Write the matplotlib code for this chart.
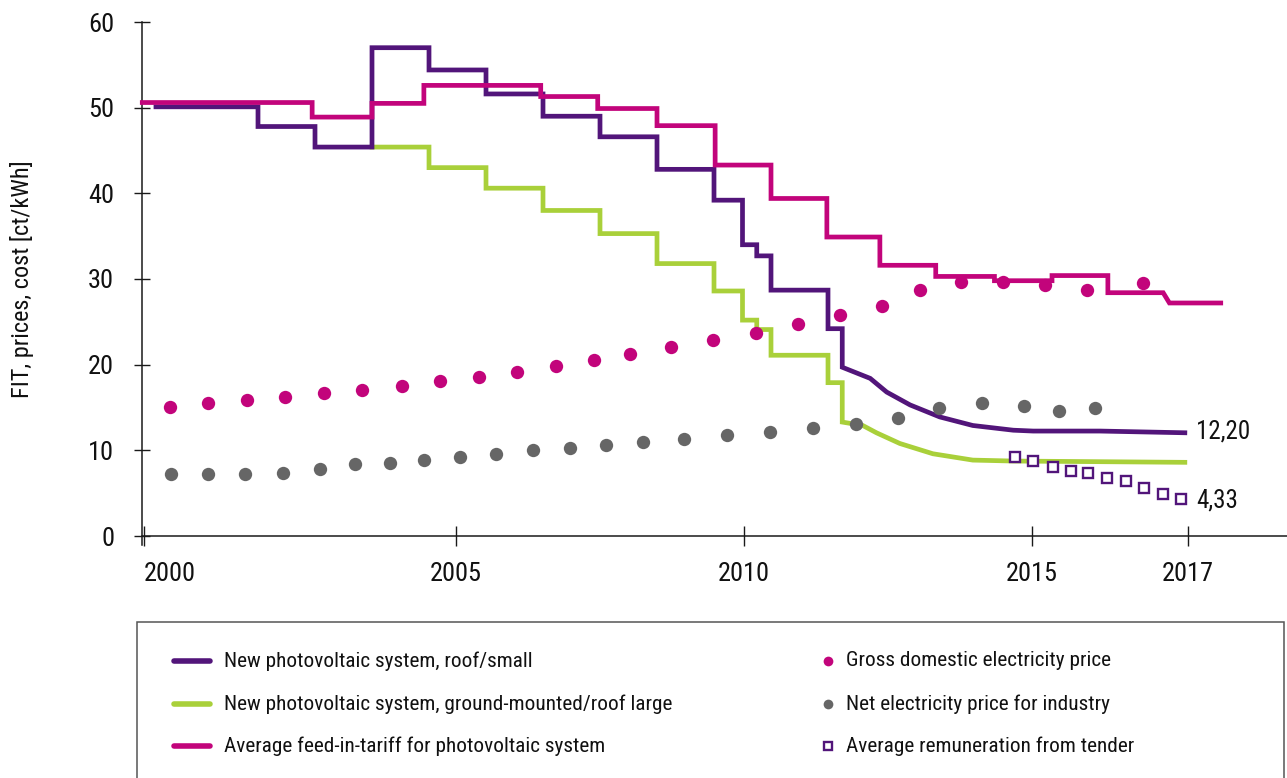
import matplotlib
matplotlib.use("Agg")
import matplotlib.pyplot as plt
from matplotlib.lines import Line2D
from matplotlib.patches import Rectangle
from matplotlib import font_manager as fm
import numpy as np

# ---------------- data ----------------
# New photovoltaic system, roof/small: step changes (time, value) then smooth degression
roof_step_t = [2000.21, 2002, 2003, 2004, 2005, 2006, 2007, 2008, 2009, 2010,
               2010.5, 2010.75, 2011, 2012, 2012.25]
roof_step_v = [50.1, 47.8, 45.4, 57.0, 54.4, 51.6, 49.0, 46.6, 42.8, 39.2,
               34.0, 32.7, 28.7, 24.2, 19.7]
roof_curve_t = [2012.74, 2013.03, 2013.44, 2013.96, 2014.54, 2015.25, 2015.6, 2016.77, 2018.26]
roof_curve_v = [18.4, 16.8, 15.3, 13.9, 12.9, 12.35, 12.25, 12.25, 12.05]

# New photovoltaic system, ground-mounted/roof large
ground_step_t = [2004, 2005, 2006, 2007, 2008, 2009, 2010, 2010.5, 2010.75, 2011, 2012, 2012.25]
ground_step_v = [45.4, 43.0, 40.6, 38.0, 35.3, 31.8, 28.6, 25.2, 24.1, 21.1, 17.9, 13.3]
ground_curve_t = [2012.61, 2012.85, 2013.26, 2013.84, 2014.54, 2015.25, 2018.26]
ground_curve_v = [12.9, 12.05, 10.8, 9.6, 8.86, 8.75, 8.6]

# Average feed-in-tariff for photovoltaic system
fit_step_t = [1999.97, 2002.95, 2004, 2004.91, 2006.96, 2007.96, 2009, 2010.02, 2011,
              2011.98, 2012.91, 2013.89, 2014.92, 2015.93, 2016.91]
fit_step_v = [50.6, 48.9, 50.5, 52.6, 51.3, 49.9, 47.9, 43.3, 39.4,
              34.9, 31.6, 30.3, 29.8, 30.4, 28.4]
fit_tail_t = [2017.88, 2017.99, 2018.89]
fit_tail_v = [28.4, 27.2, 27.2]

# Gross domestic electricity price
dom_t = [2000.45, 2001.12, 2001.80, 2002.48, 2003.15, 2003.83, 2004.52, 2005.19, 2005.87,
         2006.55, 2007.23, 2007.90, 2008.53, 2009.25, 2009.99, 2010.74, 2011.47, 2012.21,
         2012.94, 2013.61, 2014.33, 2015.07, 2015.81, 2016.54, 2017.53]
dom_v = [15.1, 15.5, 15.85, 16.2, 16.7, 17.1, 17.55, 18.1, 18.6, 19.2, 19.8, 20.5, 21.2,
         22.05, 22.9, 23.7, 24.7, 25.8, 26.9, 28.7, 29.7, 29.7, 29.3, 28.7, 29.5]

# Net electricity price for industry
ind_t = [2000.47, 2001.12, 2001.78, 2002.43, 2003.09, 2003.70, 2004.31, 2004.92, 2005.54,
         2006.18, 2006.82, 2007.47, 2008.11, 2008.75, 2009.48, 2010.23, 2010.99, 2011.74,
         2012.49, 2013.22, 2013.95, 2014.70, 2015.44, 2016.06, 2016.68]
ind_v = [7.19, 7.19, 7.19, 7.3, 7.77, 8.35, 8.54, 8.85, 9.24, 9.63, 10.02, 10.33, 10.6,
         10.92, 11.38, 11.77, 12.15, 12.66, 13.1, 13.8, 15.0, 15.55, 15.15, 14.6, 14.9]

# Average remuneration from tender
tender_t = [2015.28, 2015.60, 2015.94, 2016.26, 2016.57, 2016.90, 2017.22, 2017.54, 2017.87, 2018.19]
tender_v = [9.25, 8.71, 8.08, 7.58, 7.31, 6.73, 6.41, 5.63, 4.86, 4.28]

tick_pos = [2000.0, 2005.47, 2010.53, 2015.58, 2018.31]
tick_labels = ["2000", "2005", "2010", "2015", "2017"]
y_ticks = [0, 10, 20, 30, 40, 50, 60]

end_label_roof = "12,20"
end_label_tender = "4,33"

legend_labels = ["New photovoltaic system, roof/small",
                 "New photovoltaic system, ground-mounted/roof large",
                 "Average feed-in-tariff for photovoltaic system",
                 "Gross domestic electricity price",
                 "Net electricity price for industry",
                 "Average remuneration from tender"]

# ---------------- style ----------------
PURPLE = "#52157a"
GREEN = "#a9d03a"
MAGENTA = "#c2047b"
GRAY = "#666666"
AXC = "#1a1a1a"
TXT = "#111111"


def pick_font():
    fl = fm.fontManager.ttflist
    def regular(f):
        return f.style == "normal" and f.weight in (400, "normal", "regular", "book")
    prefs = [lambda f: f.name == "Liberation Sans Narrow",
             lambda f: "Condensed" in f.name and "Roboto" in f.name,
             lambda f: "Condensed" in f.name and "Open Sans" in f.name,
             lambda f: f.name == "DejaVu Sans" and "ondensed" in str(f.stretch) or
                       (f.name == "DejaVu Sans" and "Condensed" in f.fname),
             lambda f: "Narrow" in f.name or "Condensed" in f.name]
    for p in prefs:
        c = [f for f in fl if p(f) and regular(f)]
        if c:
            return fm.FontProperties(fname=c[0].fname), True
    return fm.FontProperties(family=["Roboto", "DejaVu Sans"]), False


BASE_FP, CONDENSED = pick_font()
SCALE = 1.0 if CONDENSED else 0.86


def fp(size):
    p = BASE_FP.copy()
    p.set_size(size * SCALE)
    return p


W, H = 1287, 778
fig = plt.figure(figsize=(W / 100, H / 100), dpi=100)
ax = fig.add_axes([142 / W, 1 - 536 / H, (W - 142) / W, (536 - 22) / H])


def step_xy(ts, vs):
    xs, ys = [], []
    for i, (t, v) in enumerate(zip(ts, vs)):
        if i > 0:
            xs.append(t)
            ys.append(vs[i - 1])
        xs.append(t)
        ys.append(v)
    return xs, ys


def full_series(st, sv, ct, cv):
    xs, ys = step_xy(st, sv)
    return xs + list(ct), ys + list(cv)


LW = 3.4
x, y = full_series(roof_step_t, roof_step_v, roof_curve_t, roof_curve_v)
ax.plot(x, y, color=PURPLE, lw=LW, solid_joinstyle="miter", zorder=3)
x, y = full_series(ground_step_t, ground_step_v, ground_curve_t, ground_curve_v)
ax.plot(x, y, color=GREEN, lw=LW, solid_joinstyle="miter", zorder=2)
x, y = full_series(fit_step_t, fit_step_v, fit_tail_t, fit_tail_v)
ax.plot(x, y, color=MAGENTA, lw=LW, solid_joinstyle="miter", zorder=4)

ax.plot(dom_t, dom_v, "o", color=MAGENTA, ms=9.6, mew=0, zorder=5)
ax.plot(ind_t, ind_v, "o", color=GRAY, ms=9.6, mew=0, zorder=5)
ax.plot(tender_t, tender_v, "s", mfc="white", mec=PURPLE, ms=7.4, mew=1.7, zorder=6)

ax.text(roof_curve_t[-1] + 0.2, roof_curve_v[-1] + 0.1, end_label_roof, fontproperties=fp(18),
        va="center", ha="left", color=TXT)
ax.text(tender_t[-1] + 0.27, tender_v[-1] - 0.1, end_label_tender, fontproperties=fp(18),
        va="center", ha="left", color=TXT)

x0 = 2000 + (142 - 144) / 57
x1 = 2000 + (1287 - 144) / 57
ax.set_xlim(x0, x1)
ax.set_ylim(0, 60)
for s in ["top", "right"]:
    ax.spines[s].set_visible(False)
for s in ["left", "bottom"]:
    ax.spines[s].set_color(AXC)
    ax.spines[s].set_linewidth(1.1)
ax.spines["left"].set_bounds(-1.1, 60)
ax.set_yticks(y_ticks)
ax.set_xticks(tick_pos)
ax.set_xticklabels(tick_labels)
ax.tick_params(axis="y", direction="inout", length=12, width=1.0, color=AXC,
               pad=14, labelcolor=TXT)
ax.tick_params(axis="x", direction="inout", length=14, width=1.0, color=AXC,
               pad=12, labelcolor=TXT)
for lab in ax.get_xticklabels() + ax.get_yticklabels():
    lab.set_fontproperties(fp(19))
ax.get_xticklabels()[0].set_horizontalalignment("left")
ax.set_ylabel("FIT, prices, cost [ct/kWh]", fontproperties=fp(17.5), color=TXT)
ax.yaxis.set_label_coords(-(142 - 34) / (W - 142), 0.5)
for ln in ax.lines:
    ln.set_clip_on(False)


def fx(px):
    return px / W


def fy(py):
    return 1 - py / H


# legend frame
fig.add_artist(Rectangle((fx(137), fy(800)), fx(1284) - fx(137), fy(622) - fy(800),
                         transform=fig.transFigure, fill=False, ec="#555555", lw=1.1))
rows = [661, 704, 746]
line_cols = [PURPLE, GREEN, MAGENTA]
for r, c, lab in zip(rows, line_cols, legend_labels[:3]):
    fig.add_artist(Line2D([fx(174), fx(210)], [fy(r), fy(r)], transform=fig.transFigure,
                          color=c, lw=4.0, solid_capstyle="round"))
    fig.text(fx(224), fy(r), lab, fontproperties=fp(15.3), va="center", ha="left", color=TXT)
mk_specs = [dict(marker="o", color=MAGENTA, ms=7, mew=0),
            dict(marker="o", color=GRAY, ms=7, mew=0),
            dict(marker="s", mfc="white", mec=PURPLE, ms=6.3, mew=1.7)]
for r, spec, lab in zip(rows, mk_specs, legend_labels[3:]):
    fig.add_artist(Line2D([fx(828)], [fy(r)], transform=fig.transFigure, ls="none", **spec))
    fig.text(fx(846), fy(r), lab, fontproperties=fp(15.3), va="center", ha="left", color=TXT)

fig.savefig("out.png", dpi=100)
